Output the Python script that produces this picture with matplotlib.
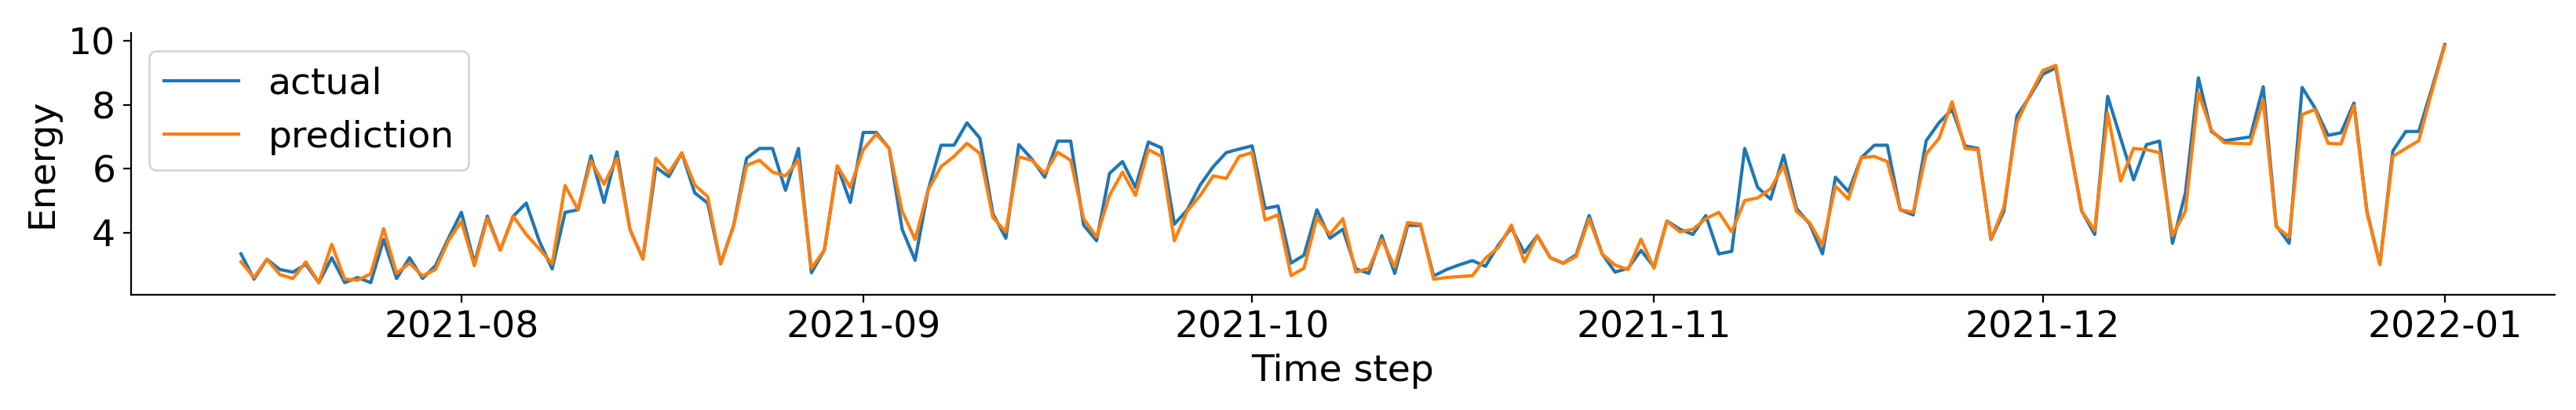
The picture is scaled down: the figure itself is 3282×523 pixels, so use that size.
import matplotlib
matplotlib.use("Agg")
import matplotlib.pyplot as plt
import matplotlib.dates as mdates
from matplotlib.ticker import MultipleLocator
import pandas as pd

start_date = "2021-07-15"

actual = [3.34, 2.55, 3.17, 2.85, 2.77, 3.01, 2.44, 3.22, 2.44, 2.60,
          2.44, 3.79, 2.57, 3.22, 2.57, 2.97, 3.83, 4.64, 3.05, 4.52,
          3.46, 4.52, 4.93, 3.75, 2.87, 4.64, 4.72, 6.41, 4.95, 6.53,
          4.11, 3.18, 6.05, 5.76, 6.50, 5.25, 4.93, 3.03, 4.23, 6.33,
          6.64, 6.64, 5.33, 6.64, 2.75, 3.46, 6.09, 4.95, 7.14, 7.14,
          6.64, 4.11, 3.14, 5.33, 6.74, 6.74, 7.44, 6.96, 4.60, 3.83,
          6.76, 6.31, 5.74, 6.87, 6.87, 4.24, 3.75, 5.86, 6.23, 5.42,
          6.84, 6.66, 4.27, 4.72, 5.50, 6.07, 6.51, 6.62, 6.72, 4.76,
          4.84, 3.05, 3.30, 4.72, 3.83, 4.11, 2.87, 2.73, 3.91, 2.73,
          4.23, 4.23, 2.65, 2.85, 3.00, 3.13, 2.95, 3.62, 4.15, 3.38,
          3.91, 3.22, 3.05, 3.31, 4.54, 3.34, 2.77, 2.89, 3.45, 2.93,
          4.37, 4.11, 3.95, 4.54, 3.34, 3.42, 6.64, 5.42, 5.05, 6.43,
          4.76, 4.28, 3.34, 5.74, 5.29, 6.35, 6.74, 6.74, 4.72, 4.56,
          6.88, 7.45, 7.86, 6.72, 6.64, 3.79, 4.68, 7.66, 8.27, 8.96,
          9.16, 6.90, 4.68, 3.95, 8.27, 6.96, 5.66, 6.76, 6.87, 3.67,
          5.25, 8.85, 7.17, 6.88, 6.94, 7.00, 8.57, 4.23, 3.67, 8.55,
          7.90, 7.05, 7.13, 8.06, 4.68, 3.01, 6.56, 7.17, 7.17, 8.50,
          9.89]

prediction = [3.09, 2.60, 3.17, 2.69, 2.57, 3.09, 2.44, 3.64, 2.55, 2.52,
              2.71, 4.13, 2.73, 3.05, 2.65, 2.85, 3.75, 4.36, 2.97, 4.45,
              3.46, 4.52, 3.95, 3.50, 3.03, 5.48, 4.72, 6.25, 5.52, 6.33,
              4.11, 3.18, 6.33, 5.88, 6.50, 5.50, 5.13, 3.03, 4.21, 6.11,
              6.27, 5.90, 5.78, 6.27, 2.89, 3.46, 6.09, 5.42, 6.60, 7.09,
              6.64, 4.68, 3.79, 5.33, 6.07, 6.39, 6.80, 6.48, 4.48, 4.03,
              6.38, 6.27, 5.86, 6.52, 6.27, 4.44, 3.87, 5.17, 5.90, 5.17,
              6.60, 6.39, 3.75, 4.68, 5.17, 5.78, 5.70, 6.39, 6.51, 4.40,
              4.56, 2.66, 2.89, 4.48, 3.95, 4.44, 2.77, 2.89, 3.79, 2.93,
              4.32, 4.27, 2.55, 2.60, 2.63, 2.66, 3.20, 3.54, 4.24, 3.09,
              3.91, 3.22, 3.04, 3.26, 4.44, 3.34, 2.99, 2.85, 3.80, 2.89,
              4.36, 4.03, 4.11, 4.44, 4.64, 4.03, 5.01, 5.09, 5.38, 6.11,
              4.66, 4.32, 3.62, 5.46, 5.05, 6.35, 6.39, 6.23, 4.72, 4.64,
              6.47, 6.96, 8.10, 6.64, 6.60, 3.79, 4.81, 7.45, 8.31, 9.08,
              9.24, 6.90, 4.68, 4.07, 7.74, 5.62, 6.64, 6.60, 6.51, 3.91,
              4.68, 8.39, 7.21, 6.82, 6.80, 6.78, 8.14, 4.19, 3.87, 7.70,
              7.86, 6.80, 6.78, 7.98, 4.64, 3.01, 6.39, 6.64, 6.88, 8.40,
              9.85]

dates = pd.date_range(start_date, periods=len(actual), freq="D")

FS = 17
fig = plt.figure(figsize=(16.41, 2.615), dpi=200)
ax = fig.add_axes([0.0508, 0.2816, 0.941, 0.6387])
ax.plot(dates, actual, color="#1f77b4", lw=1.5, label="actual")
ax.plot(dates, prediction, color="#ff7f0e", lw=1.5, label="prediction")

ax.xaxis.set_major_locator(mdates.MonthLocator())
ax.xaxis.set_major_formatter(mdates.DateFormatter("%Y-%m"))
ax.yaxis.set_major_locator(MultipleLocator(2))
ax.tick_params(labelsize=FS)
ax.set_xlabel("Time step", fontsize=FS)
ax.set_ylabel("Energy", fontsize=FS)
ax.spines["top"].set_visible(False)
ax.spines["right"].set_visible(False)
ax.legend(loc="upper left", fontsize=FS)

fig.savefig("out.png", dpi=200)
